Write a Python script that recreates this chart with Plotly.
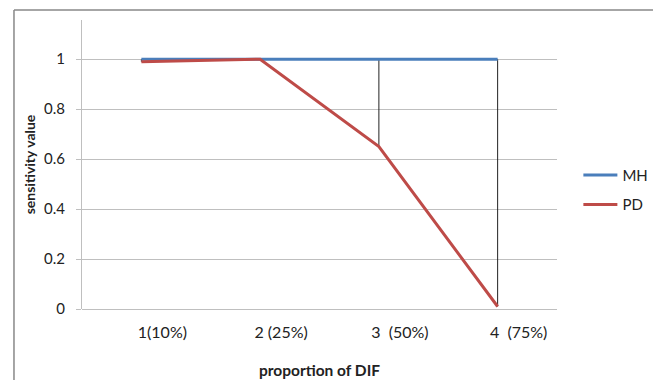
import plotly.graph_objects as go

categories = ["1(10%)", "2 (25%)", "3  (50%)", "4  (75%)"]
mh_values = [1.0, 1.0, 1.0, 1.0]
pd_values = [0.99, 1.0, 0.65, 0.01]
y_ticks = [0, 0.2, 0.4, 0.6, 0.8, 1]
y_tick_labels = ["0", "0.2", "0.4", "0.6", "0.8", "1"]

FONT = "Lato, 'Open Sans', Arial, sans-serif"

# high-low lines built from the series values
hl_x, hl_y = [], []
for c, a, b in zip(categories, mh_values, pd_values):
    hl_x += [c, c, None]
    hl_y += [max(a, b), min(a, b), None]

fig = go.Figure()
fig.add_trace(go.Scatter(x=hl_x, y=hl_y, mode="lines",
                         line=dict(color="#222222", width=1),
                         showlegend=False, hoverinfo="skip"))
fig.add_trace(go.Scatter(x=categories, y=mh_values, mode="lines", name="MH",
                         legendgroup="mh",
                         line=dict(color="#4A7EBB", width=3)))
fig.add_trace(go.Scatter(x=categories, y=pd_values, mode="lines", name="PD",
                         legendgroup="pd",
                         line=dict(color="#BE4B48", width=3)))

fig.update_layout(
    width=653, height=380,
    margin=dict(l=82, r=96, t=20, b=71, autoexpand=False),
    paper_bgcolor="white", plot_bgcolor="white",
    font=dict(family=FONT, size=14, color="#222222"),
    legend=dict(x=1.045, y=0.413, xanchor="left", yanchor="middle",
                font=dict(size=15), itemwidth=34, tracegroupgap=7),
    xaxis=dict(
        type="category", range=[-0.5, 3.5], automargin=False,
        showgrid=False, showline=False, zeroline=False, ticks="",
        tickfont=dict(size=16), ticklabelstandoff=12, ticklabelshift=21,
        title=dict(text="<b>proportion of DIF</b>", font=dict(size=15.5), standoff=25),
    ),
    yaxis=dict(
        range=[0, 1.157], tickvals=y_ticks, ticktext=y_tick_labels, automargin=False,
        showgrid=True, gridcolor="#BFBFBF", gridwidth=1,
        showline=True, linecolor="#BFBFBF", linewidth=1,
        zeroline=True, zerolinecolor="#BFBFBF", zerolinewidth=1,
        ticks="outside", ticklen=5, tickcolor="#BFBFBF",
        tickfont=dict(size=15), ticklabelstandoff=8,
        title=dict(text="<b>sensitivity value</b>", font=dict(size=14), standoff=5),
    ),
    shapes=[
        dict(type="line", xref="paper", yref="paper", x0=-0.1432, x1=1.21,
             y0=1.0346, y1=1.0346, line=dict(color="#888888", width=1.5)),
        dict(type="line", xref="paper", yref="paper", x0=-0.1432, x1=-0.1432,
             y0=1.0346, y1=-0.25, line=dict(color="#888888", width=1.5)),
    ],
)

fig.write_html("out.html", config={"displayModeBar": False},
               post_script="document.body.style.margin='0';document.body.style.overflow='hidden';")
